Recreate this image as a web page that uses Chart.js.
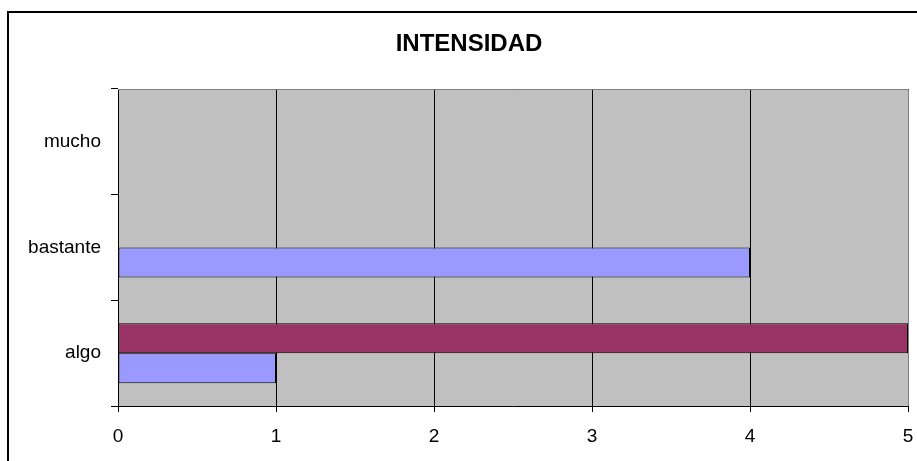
<!DOCTYPE html>
<html>
<head>
<meta charset="utf-8">
<script src="https://cdn.jsdelivr.net/npm/chart.js@4/dist/chart.umd.min.js"></script>
<style>
html,body{margin:0;padding:0;background:#fff;}
#wrap{width:917px;height:461px;position:relative;}
</style>
</head>
<body>
<div id="wrap"><canvas id="c" width="917" height="461"></canvas></div>
<script>
const chartTitle = 'INTENSIDAD';
const categories = ['mucho', 'bastante', 'algo'];
const serie1 = [0, 4, 1];   // blue
const serie2 = [0, 0, 5];   // maroon
const xTicks = [0, 1, 2, 3, 4, 5];

const FONT = '"Liberation Sans", Arial, sans-serif';

const framePlugin = {
  id: 'frame',
  beforeDraw(chart) {
    const ctx = chart.ctx;
    const a = chart.chartArea;
    ctx.save();
    ctx.fillStyle = '#ffffff';
    ctx.fillRect(0, 0, chart.width, chart.height);
    ctx.strokeStyle = '#000000';
    ctx.lineWidth = 2;
    ctx.strokeRect(8, 12, chart.width + 20, chart.height + 20);
    ctx.fillStyle = '#C0C0C0';
    ctx.fillRect(a.left, a.top, a.right - a.left, a.bottom - a.top);
    ctx.restore();
  },
  afterDraw(chart) {
    const ctx = chart.ctx;
    const a = chart.chartArea;
    ctx.save();
    ctx.strokeStyle = '#808080';
    ctx.lineWidth = 1;
    ctx.beginPath();
    ctx.moveTo(a.left, a.top + 0.5);
    ctx.lineTo(a.right + 0.5, a.top + 0.5);
    ctx.lineTo(a.right + 0.5, a.bottom);
    ctx.stroke();
    ctx.fillStyle = '#000000';
    ctx.font = 'bold 24px ' + FONT;
    ctx.textAlign = 'center';
    ctx.textBaseline = 'middle';
    ctx.fillText(chartTitle, 469, 44);
    ctx.restore();
  }
};

const zeroless = (ctx) => (ctx.raw ? 1 : 0);

new Chart(document.getElementById('c'), {
  type: 'bar',
  data: {
    labels: categories,
    datasets: [
      { label: 'Serie2', data: serie2, backgroundColor: '#993366', borderColor: '#000000', borderWidth: zeroless, borderSkipped: false },
      { label: 'Serie1', data: serie1, backgroundColor: '#9999FF', borderColor: '#000000', borderWidth: zeroless, borderSkipped: false }
    ]
  },
  options: {
    indexAxis: 'y',
    responsive: false,
    animation: false,
    layout: { padding: { top: 89, right: 0, left: 0, bottom: 0 } },
    datasets: { bar: { categoryPercentage: 0.568, barPercentage: 1 } },
    plugins: { legend: { display: false }, tooltip: { enabled: false }, title: { display: false } },
    scales: {
      x: {
        min: 0, max: 5,
        afterBuildTicks(scale) { scale.ticks = xTicks.map(v => ({ value: v })); },
        afterFit(scale) { scale.height = 55; scale.paddingLeft = 0; scale.paddingRight = 9; },
        grid: { color: '#000000', lineWidth: 1, drawTicks: true, tickLength: 6, tickColor: '#000000' },
        border: { display: true, color: '#000000', width: 1 },
        ticks: { color: '#000000', padding: 13, maxRotation: 0, font: { family: FONT, size: 19 } }
      },
      y: {
        afterFit(scale) { scale.width = 118; scale.paddingTop = 0; scale.paddingBottom = 0; },
        grid: { offset: true, drawOnChartArea: false, drawTicks: true, tickLength: 7, tickColor: '#000000', color: '#000000' },
        border: { display: true, color: '#000000', width: 1 },
        ticks: { color: '#000000', padding: 10, font: { family: FONT, size: 19 } }
      }
    }
  },
  plugins: [framePlugin]
});
</script>
</body>
</html>
